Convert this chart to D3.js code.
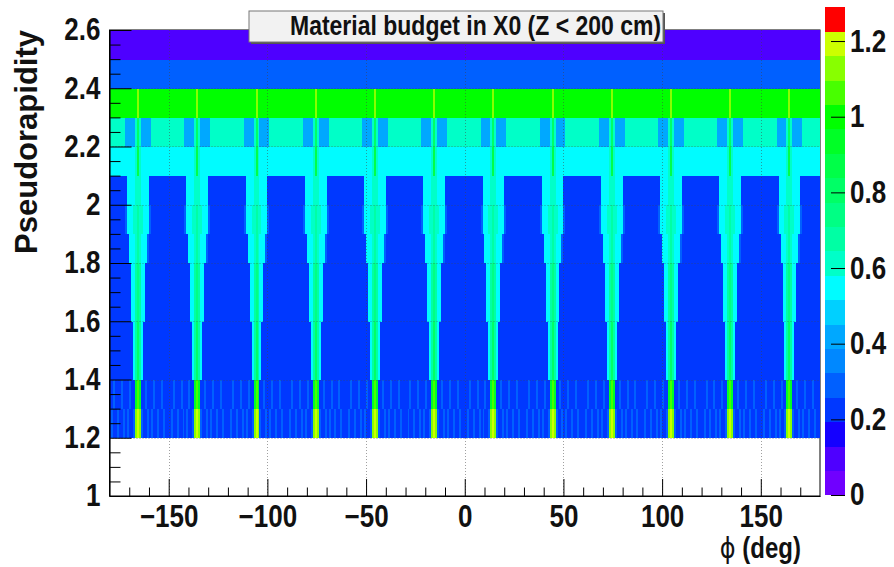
<!DOCTYPE html>
<html>
<head>
<meta charset="utf-8">
<script src="https://cdn.jsdelivr.net/npm/d3@7/dist/d3.min.js"></script>
<style>
  html, body { margin: 0; padding: 0; background: #ffffff; }
  svg { display: block; font-family: "Liberation Sans", Arial, Helvetica, sans-serif; }
</style>
</head>
<body>
<svg id="chart" width="894" height="567"></svg>
<script>
// ---- data -------------------------------------------------------------
// pseudorapidity bins (lower edges, width 0.1)
const etaBins = [1.2, 1.3, 1.4, 1.5, 1.6, 1.7, 1.8, 1.9, 2.0, 2.1, 2.2, 2.3, 2.4, 2.5];
const etaWidth = 0.1;

// the detector repeats every 30 degrees in phi: start angle of each sector
const sectorStart = [-180, -150, -120, -90, -60, -30, 0, 30, 60, 90, 120, 150];
const phiWidth = 1; // one value per degree inside a sector

// material budget (X0) across one 30-degree sector, one array per eta bin
const eta12 = [0.24,0.29,0.24,0.24,0.29,0.24,0.24,0.29,0.24,0.29,0.24,0.24,0.29,1.12,1.22,1.12,0.29,0.24,0.24,0.29,0.24,0.29,0.24,0.24,0.29,0.24,0.24,0.29,0.24,0.24];
const eta13 = [0.23,0.23,0.27,0.23,0.23,0.23,0.27,0.23,0.23,0.23,0.27,0.23,0.23,0.92,1.06,0.92,0.23,0.23,0.27,0.23,0.23,0.23,0.27,0.23,0.23,0.23,0.27,0.23,0.23,0.23];
const eta14 = [0.21,0.21,0.21,0.21,0.21,0.21,0.21,0.21,0.21,0.21,0.21,0.21,0.55,0.68,0.80,0.68,0.55,0.21,0.21,0.21,0.21,0.21,0.21,0.21,0.21,0.21,0.21,0.21,0.21,0.21];
const eta15 = [0.21,0.21,0.21,0.21,0.21,0.21,0.21,0.21,0.21,0.21,0.21,0.21,0.55,0.68,0.80,0.68,0.55,0.21,0.21,0.21,0.21,0.21,0.21,0.21,0.21,0.21,0.21,0.21,0.21,0.21];
const eta16 = [0.22,0.22,0.22,0.22,0.22,0.22,0.22,0.22,0.22,0.22,0.22,0.55,0.57,0.66,0.76,0.66,0.57,0.55,0.22,0.22,0.22,0.22,0.22,0.22,0.22,0.22,0.22,0.22,0.22,0.22];
const eta17 = [0.22,0.22,0.22,0.22,0.22,0.22,0.22,0.22,0.22,0.22,0.22,0.55,0.57,0.66,0.76,0.66,0.57,0.55,0.22,0.22,0.22,0.22,0.22,0.22,0.22,0.22,0.22,0.22,0.22,0.22];
const eta18 = [0.22,0.22,0.22,0.22,0.22,0.22,0.22,0.22,0.22,0.22,0.55,0.55,0.57,0.62,0.70,0.62,0.57,0.55,0.55,0.27,0.22,0.22,0.22,0.22,0.22,0.22,0.22,0.22,0.22,0.22];
const eta19 = [0.22,0.22,0.22,0.22,0.22,0.22,0.22,0.22,0.27,0.55,0.55,0.55,0.62,0.64,0.66,0.64,0.62,0.55,0.55,0.55,0.27,0.22,0.22,0.22,0.22,0.22,0.22,0.22,0.22,0.22];
const eta20 = [0.22,0.22,0.22,0.22,0.22,0.22,0.22,0.22,0.22,0.55,0.55,0.55,0.55,0.60,0.64,0.60,0.55,0.55,0.55,0.55,0.22,0.22,0.22,0.22,0.22,0.22,0.22,0.22,0.22,0.22];
const eta21 = [0.55,0.55,0.55,0.55,0.55,0.55,0.55,0.55,0.55,0.55,0.55,0.55,0.55,0.62,0.84,0.62,0.55,0.55,0.55,0.55,0.55,0.55,0.55,0.55,0.55,0.55,0.55,0.55,0.55,0.55];
const eta22 = [0.63,0.63,0.63,0.63,0.63,0.63,0.63,0.63,0.45,0.45,0.45,0.45,0.45,0.63,0.82,0.63,0.45,0.45,0.45,0.45,0.45,0.63,0.63,0.63,0.63,0.63,0.63,0.63,0.63,0.63];
const eta23 = [0.99,0.99,0.99,0.99,0.99,0.99,0.99,0.99,0.99,0.99,0.99,0.99,0.99,0.99,1.12,0.99,0.99,0.99,0.99,0.99,0.99,0.99,0.99,0.99,0.99,0.99,0.99,0.99,0.99,0.99];
const eta24 = [0.27,0.27,0.27,0.27,0.27,0.27,0.27,0.27,0.27,0.27,0.27,0.27,0.27,0.27,0.27,0.27,0.27,0.27,0.27,0.27,0.27,0.27,0.27,0.27,0.27,0.27,0.27,0.27,0.27,0.27];
const eta25 = [0.09,0.09,0.09,0.09,0.09,0.09,0.09,0.09,0.09,0.09,0.09,0.09,0.09,0.09,0.09,0.09,0.09,0.09,0.09,0.09,0.09,0.09,0.09,0.09,0.09,0.09,0.09,0.09,0.09,0.09];
const rowProfiles = [eta12, eta13, eta14, eta15, eta16, eta17, eta18, eta19, eta20, eta21, eta22, eta23, eta24, eta25];

// axis ticks
const xMajor = [-150, -100, -50, 0, 50, 100, 150];
const xMinor = [-170,-160,-140,-130,-120,-110,-90,-80,-70,-60,-40,-30,-20,-10,10,20,30,40,60,70,80,90,110,120,130,140,160,170];
const yMajor = [1, 1.2, 1.4, 1.6, 1.8, 2, 2.2, 2.4, 2.6];
const yMinor = [1.05,1.1,1.15,1.25,1.3,1.35,1.45,1.5,1.55,1.65,1.7,1.75,1.85,1.9,1.95,2.05,2.1,2.15,2.25,2.3,2.35,2.45,2.5,2.55];
const zTicks = [0, 0.2, 0.4, 0.6, 0.8, 1, 1.2];
const zMax = 1.29;

// 20-level rainbow palette, violet (low) to red (high)
const palette = ["#7000ff","#4e00ff","#1400ff","#0038ff","#0060ff","#0088ff","#00a8ff","#00d0ff","#00fcff","#00ffc8",
                 "#00ffa4","#00ff84","#00ff66","#00ff48","#00ff26","#00ff00","#48ff00","#88ff00","#ccff00","#ff0000"];

// ---- layout -----------------------------------------------------------
const svg = d3.select("#chart");
const plotL = 109.5, plotR = 820, plotT = 30, plotB = 496;
const stretch = 1.2;           // glyphs are drawn a little taller than wide
const fmt = d3.format("~g");

const x = d3.scaleLinear().domain([-180, 180]).range([plotL, plotR]);
const y = d3.scaleLinear().domain([1, 2.6]).range([plotB, plotT]);
const color = d3.scaleQuantize().domain([0, zMax]).range(palette);

// stretch a text element vertically about a given y
const tall = (sel, cy) => sel.attr("transform", `translate(0,${cy}) scale(1,${stretch}) translate(0,${-cy})`);

// frame (right/top edges show where the histogram is empty)
svg.append("rect")
  .attr("x", plotL).attr("y", plotT)
  .attr("width", plotR - plotL).attr("height", plotB - plotT)
  .attr("fill", "#ffffff").attr("stroke", "#000").attr("stroke-width", 1);

// ---- histogram cells --------------------------------------------------
const cells = [];
etaBins.forEach((eta, r) => {
  const profile = rowProfiles[r];
  // merge neighbouring bins with the same colour into one run
  let run = null;
  sectorStart.forEach(s => {
    profile.forEach((v, j) => {
      const phi = s + j * phiWidth;
      const c = color(v);
      if (run && run.c === c && Math.abs(run.phi1 - phi) < 1e-9) {
        run.phi1 = phi + phiWidth;
      } else {
        if (run) cells.push(run);
        run = { eta, phi0: phi, phi1: phi + phiWidth, c };
      }
    });
  });
  if (run) cells.push(run);
});

svg.append("g").attr("class", "cells")
  .selectAll("rect").data(cells).join("rect")
  .attr("x", d => x(d.phi0))
  .attr("y", d => y(d.eta + etaWidth))
  .attr("width", d => x(d.phi1) - x(d.phi0) + 0.4)
  .attr("height", d => y(d.eta) - y(d.eta + etaWidth) + 0.4)
  .attr("fill", d => d.c)
  .attr("shape-rendering", "crispEdges");

// ---- grid -------------------------------------------------------------
const grid = svg.append("g").attr("class", "grid")
  .attr("stroke", "#444").attr("stroke-width", 1)
  .attr("stroke-dasharray", "1,2").attr("opacity", 0.5);
grid.selectAll("line.v").data(xMajor).join("line").attr("class", "v")
  .attr("x1", d => Math.round(x(d)) + 0.5).attr("x2", d => Math.round(x(d)) + 0.5)
  .attr("y1", plotT).attr("y2", plotB);
grid.selectAll("line.h").data(yMajor.filter(v => v > 1 && v < 2.6)).join("line").attr("class", "h")
  .attr("y1", d => Math.round(y(d)) + 0.5).attr("y2", d => Math.round(y(d)) + 0.5)
  .attr("x1", plotL).attr("x2", plotR);

// ---- axes -------------------------------------------------------------
const labelStyle = sel => sel.selectAll("text")
  .attr("font-size", 26).attr("font-weight", "bold").attr("fill", "#111");

const xAxis = svg.append("g").attr("transform", `translate(0,${plotB})`)
  .call(d3.axisBottom(x).tickValues(xMajor).tickFormat(fmt).tickSize(-17).tickSizeOuter(0).tickPadding(11));
xAxis.call(labelStyle);
xAxis.selectAll(".tick text").each(function () { tall(d3.select(this), 20); });
svg.append("g").attr("transform", `translate(0,${plotB})`)
  .call(d3.axisBottom(x).tickValues(xMinor).tickSize(-8.5).tickSizeOuter(0).tickFormat(""))
  .call(g => g.select(".domain").remove());

const yAxis = svg.append("g").attr("transform", `translate(${plotL},0)`)
  .call(d3.axisLeft(y).tickValues(yMajor).tickFormat(fmt).tickSize(-22).tickSizeOuter(0).tickPadding(9));
yAxis.call(labelStyle);
yAxis.selectAll(".tick text").each(function () { tall(d3.select(this), 0); });
svg.append("g").attr("transform", `translate(${plotL},0)`)
  .call(d3.axisLeft(y).tickValues(yMinor).tickSize(-11).tickSizeOuter(0).tickFormat(""))
  .call(g => g.select(".domain").remove());

svg.selectAll(".tick line").attr("stroke", "#000");
svg.selectAll(".domain").attr("stroke", "#000").attr("stroke-width", 1.2);

// axis titles
svg.append("text")
  .attr("transform", `translate(37,${plotT}) rotate(-90)`)
  .attr("text-anchor", "end")
  .attr("font-size", 31).attr("font-weight", "bold").attr("fill", "#111")
  .text("Pseudorapidity");

const xt = svg.append("text")
  .attr("x", 801).attr("y", 556)
  .attr("text-anchor", "end")
  .attr("font-size", 24).attr("font-weight", "bold").attr("fill", "#111");
xt.append("tspan").attr("font-weight", "normal").attr("font-family", "'DejaVu Sans', sans-serif").text("ϕ");
xt.append("tspan").text(" (deg)");
tall(xt, 548);

// ---- colour bar -------------------------------------------------------
const barX0 = 825, barX1 = 845;
const zy = d3.scaleLinear().domain([0, zMax]).range([495, 7]);
const bands = palette.map((c, i) => ({ c, z0: zMax * i / palette.length, z1: zMax * (i + 1) / palette.length }));
svg.append("g").selectAll("rect").data(bands).join("rect")
  .attr("x", barX0).attr("width", barX1 - barX0)
  .attr("y", d => zy(d.z1)).attr("height", d => zy(d.z0) - zy(d.z1) + 0.4)
  .attr("fill", d => d.c).attr("shape-rendering", "crispEdges");

const zAxis = svg.append("g").attr("transform", `translate(${barX1},0)`)
  .call(d3.axisRight(zy).tickValues(zTicks).tickFormat(fmt).tickSize(-14).tickSizeOuter(0).tickPadding(5));
zAxis.select(".domain").remove();
zAxis.selectAll(".tick line").attr("stroke", "#000");
zAxis.call(labelStyle);
zAxis.selectAll(".tick text").each(function () { tall(d3.select(this), 0); });

// ---- title box --------------------------------------------------------
svg.append("rect").attr("x", 251).attr("y", 13).attr("width", 414).attr("height", 31)
  .attr("fill", "#555");
svg.append("rect").attr("x", 249).attr("y", 11).attr("width", 414).attr("height", 31)
  .attr("fill", "#f2f2f2").attr("stroke", "#777").attr("stroke-width", 1);
const title = svg.append("text")
  .attr("x", 290).attr("y", 35)
  .attr("font-size", 23).attr("font-weight", "bold").attr("fill", "#111")
  .text("Material budget in X0 (Z < 200 cm)");
tall(title, 35);
</script>
</body>
</html>
